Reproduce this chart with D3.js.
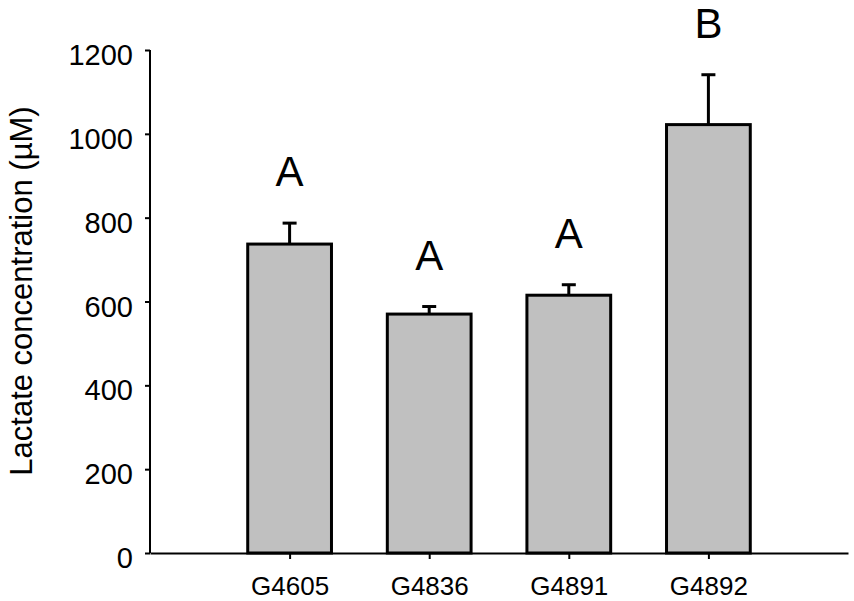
<!DOCTYPE html>
<html>
<head>
<meta charset="utf-8">
<script src="https://cdn.jsdelivr.net/npm/d3@7"></script>
<style>
  body { margin: 0; background: #fff; }
  text { font-family: "Liberation Sans", Arial, sans-serif; fill: #000; }
</style>
</head>
<body>
<svg id="chart"></svg>
<script>
// Data
const strains = ['G4605', 'G4836', 'G4891', 'G4892'];
const lactate = [737, 570, 615, 1022];
const lactateSE = [50, 18, 25, 119];
const groups = ['A', 'A', 'A', 'B'];
const yTicks = [0, 200, 400, 600, 800, 1000, 1200];
const yLabel = 'Lactate concentration (\u00b5M)';

const width = 854, height = 601;
const margin = {top: 50, right: 6, bottom: 48, left: 150};
const innerW = width - margin.left - margin.right;
const innerH = height - margin.top - margin.bottom;

const svg = d3.select('#chart')
    .attr('width', width)
    .attr('height', height);

const chart = svg.append('g')
    .attr('transform', `translate(${margin.left},${margin.top})`);

// Scales: one empty slot on each side of the four strains
const xScale = d3.scalePoint()
    .domain(strains)
    .range([0, innerW])
    .padding(1);

const yScale = d3.scaleLinear()
    .domain([0, 1200])
    .range([innerH, 0]);

const barWidth = xScale.step() * 0.6;

// Bars
chart.selectAll('.bar')
    .data(strains)
  .join('rect')
    .attr('class', 'bar')
    .attr('x', d => xScale(d) - barWidth / 2)
    .attr('width', barWidth)
    .attr('y', (d, i) => yScale(lactate[i]))
    .attr('height', (d, i) => innerH - yScale(lactate[i]))
    .attr('fill', '#c0c0c0')
    .attr('stroke', '#000')
    .attr('stroke-width', 3);

// Error bars (upper only)
const err = chart.selectAll('.err')
    .data(strains)
  .join('g')
    .attr('class', 'err')
    .attr('stroke', '#000')
    .attr('stroke-width', 3);

err.append('line')
    .attr('x1', d => xScale(d))
    .attr('x2', d => xScale(d))
    .attr('y1', (d, i) => yScale(lactate[i]))
    .attr('y2', (d, i) => yScale(lactate[i] + lactateSE[i]));

err.append('line')
    .attr('x1', d => xScale(d) - 7)
    .attr('x2', d => xScale(d) + 7)
    .attr('y1', (d, i) => yScale(lactate[i] + lactateSE[i]))
    .attr('y2', (d, i) => yScale(lactate[i] + lactateSE[i]));

// Significance letters
chart.selectAll('.group')
    .data(strains)
  .join('text')
    .attr('class', 'group')
    .attr('x', d => xScale(d))
    .attr('y', (d, i) => yScale(lactate[i] + lactateSE[i]) - 37)
    .attr('text-anchor', 'middle')
    .style('font-size', '42px')
    .text((d, i) => groups[i]);

// Axes
const yAxis = d3.axisLeft(yScale)
    .tickValues(yTicks)
    .tickFormat(d3.format('d'))
    .tickSize(5)
    .tickPadding(12);

const xAxis = d3.axisBottom(xScale)
    .tickSize(6)
    .tickPadding(17.5)
    .tickSizeOuter(0);

chart.append('g')
    .attr('class', 'axis y-axis')
    .call(yAxis)
    .call(g => g.select('.domain').attr('d', `M0,${innerH}V0`))
    .call(g => g.selectAll('line, .domain').attr('stroke', '#000').attr('stroke-width', 2))
    .call(g => g.selectAll('text')
        .attr('dy', '0.5em')
        .style('font-size', '29px')
        .attr('font-family', null));

chart.append('g')
    .attr('class', 'axis x-axis')
    .attr('transform', `translate(0,${innerH})`)
    .call(xAxis)
    .call(g => g.selectAll('line, .domain').attr('stroke', '#000').attr('stroke-width', 2))
    .call(g => g.selectAll('text')
        .style('font-size', '26px')
        .attr('font-family', null));

// Axis title
svg.append('text')
    .attr('transform', 'translate(32,291) rotate(-90)')
    .attr('text-anchor', 'middle')
    .style('font-size', '31px')
    .text(yLabel);
</script>
</body>
</html>
